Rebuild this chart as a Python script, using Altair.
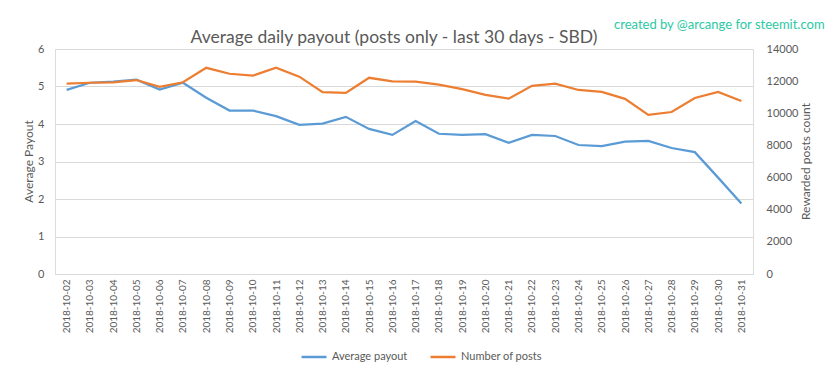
import altair as alt
import pandas as pd

dates = ["2018-10-%02d" % d for d in range(2, 32)]
avg_payout = [4.91, 5.10, 5.13, 5.18, 4.92, 5.10, 4.70, 4.36, 4.36, 4.21,
              3.98, 4.01, 4.19, 3.87, 3.71, 4.08, 3.74, 3.71, 3.73, 3.50,
              3.71, 3.68, 3.44, 3.41, 3.53, 3.55, 3.36, 3.25, 2.57, 1.88]
num_posts = [11840, 11900, 11930, 12070, 11650, 11930, 12830, 12460, 12340, 12830,
             12280, 11310, 11270, 12210, 11990, 11970, 11780, 11500, 11150, 10910,
             11710, 11840, 11450, 11330, 10900, 9900, 10080, 10950, 11330, 10760]
series_names = ["Average payout", "Number of posts"]
series_colors = ["#5b9bd5", "#ed7d31"]
title_text = "Average daily payout (posts only - last 30 days - SBD)"
credit_text = "created by @arcange for steemit.com"

df = pd.DataFrame({
    "date": dates * 2,
    "series": [series_names[0]] * len(dates) + [series_names[1]] * len(dates),
    "value": avg_payout + num_posts,
})

FONT = "Lato"
GREY = "#595959"
GRID = "#d9d9d9"

x_enc = alt.X("date:O", sort=None, title=None,
              axis=alt.Axis(labelAngle=270, labelFontSize=10, labelColor=GREY,
                            labelFont=FONT, ticks=False, domainColor=GRID,
                            labelPadding=5, grid=False))

color_enc = alt.Color("series:N",
                      scale=alt.Scale(domain=series_names, range=series_colors),
                      legend=alt.Legend(title=None, orient="none", direction="horizontal",
                                        legendX=245, legendY=294, symbolType="stroke",
                                        symbolSize=625, symbolStrokeWidth=2.5,
                                        labelFontSize=11, labelColor=GREY, labelFont=FONT,
                                        labelOffset=4, columnPadding=17))

base = alt.Chart(df)

left = base.transform_filter(alt.datum.series == series_names[0]).mark_line(
    strokeWidth=2.25).encode(
    x=x_enc,
    y=alt.Y("value:Q", scale=alt.Scale(domain=[0, 6]),
            axis=alt.Axis(title="Average Payout", values=[0, 1, 2, 3, 4, 5, 6],
                          grid=True, gridColor=GRID, domain=False, ticks=False,
                          labelPadding=11, labelFontSize=11, labelColor=GREY,
                          labelFont=FONT, titleFont=FONT, titleFontSize=12,
                          titleFontWeight="normal", titleColor=GREY,
                          titleAngle=270, titleX=-27, titleY=112,
                          titleAlign="center", titleBaseline="middle")),
    color=color_enc,
)

right = base.transform_filter(alt.datum.series == series_names[1]).mark_line(
    strokeWidth=2.25).encode(
    x=x_enc,
    y=alt.Y("value:Q", scale=alt.Scale(domain=[0, 14000]),
            axis=alt.Axis(title="Rewarded posts count", orient="right", format="d",
                          values=list(range(0, 14001, 2000)), grid=False,
                          domain=False, ticks=False, labelPadding=13,
                          labelFontSize=11, labelColor=GREY, labelFont=FONT,
                          titleFont=FONT, titleFontSize=12, titleFontWeight="normal",
                          titleColor=GREY, titleAngle=270, titleX=52, titleY=112,
                          titleAlign="center", titleBaseline="middle")),
    color=color_enc,
)

credit = alt.Chart(pd.DataFrame({"t": [credit_text]})).mark_text(
    align="left", baseline="middle", fontSize=13, font=FONT, color="#2cc9a4"
).encode(text="t:N", x=alt.value(559), y=alt.value(-24))

chart = alt.layer(left, right, credit).resolve_scale(y="independent").properties(
    width=698, height=225,
    title=alt.TitleParams(title_text, anchor="middle", frame="group", dx=-10, dy=31,
                          fontSize=17.5, font=FONT, fontWeight="normal", color=GREY),
    autosize=alt.AutoSizeParams(type="none"),
    padding={"left": 47, "top": 41, "right": 72, "bottom": 97},
).configure_view(stroke=None).configure(background="white")

chart.save("out.html", embed_options={"renderer": "svg", "actions": False})
